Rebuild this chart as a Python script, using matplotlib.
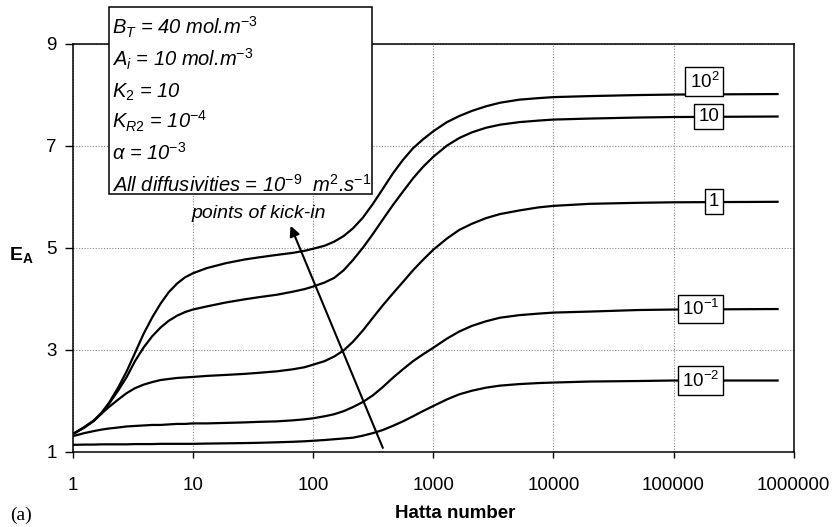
import matplotlib
matplotlib.use("Agg")
import matplotlib.pyplot as plt
from matplotlib.patches import Rectangle
from matplotlib.ticker import NullLocator

plt.rcParams["font.family"] = "Liberation Sans"
plt.rcParams["mathtext.fontset"] = "custom"
plt.rcParams["mathtext.rm"] = "Liberation Sans"
plt.rcParams["mathtext.it"] = "Liberation Sans:italic"
plt.rcParams["mathtext.bf"] = "Liberation Sans:bold"
plt.rcParams["mathtext.default"] = "it"

# ── Data ─────────────────────────────────────────────────────────────────────
HATTA = [1, 1.25, 1.5, 1.75, 2, 2.4, 2.8, 3.3, 3.9, 4.6, 5.4, 6.3, 7.4, 8.6, 10,
         13, 19, 27, 35, 50, 68, 85, 100, 125, 150, 180, 215, 260, 315, 380, 460,
         560, 680, 820, 1000, 1300, 1650, 2100, 2750, 3600, 5200, 7500, 10000,
         20000, 50000, 100000, 750000]

E_1E2 = [1.35, 1.48, 1.61, 1.78, 1.96, 2.27, 2.57, 2.94, 3.32, 3.64, 3.91, 4.13, 4.30,
         4.42, 4.50, 4.60, 4.70, 4.77, 4.81, 4.86, 4.90, 4.94, 4.98, 5.04, 5.12, 5.23,
         5.38, 5.59, 5.86, 6.15, 6.45, 6.72, 6.95, 7.12, 7.28, 7.46, 7.58, 7.68, 7.77,
         7.84, 7.90, 7.93, 7.95, 7.97, 7.99, 8.00, 8.01]
E_1E1 = [1.35, 1.48, 1.61, 1.76, 1.94, 2.21, 2.46, 2.78, 3.05, 3.27, 3.44, 3.57, 3.67,
         3.74, 3.79, 3.85, 3.93, 3.99, 4.03, 4.08, 4.14, 4.19, 4.24, 4.32, 4.41, 4.56,
         4.76, 5.00, 5.27, 5.55, 5.83, 6.10, 6.36, 6.58, 6.78, 7.00, 7.15, 7.26, 7.35,
         7.41, 7.46, 7.49, 7.51, 7.53, 7.55, 7.56, 7.57]
E_1E0 = [1.35, 1.49, 1.62, 1.76, 1.88, 2.03, 2.15, 2.25, 2.32, 2.37, 2.41, 2.43, 2.45,
         2.46, 2.47, 2.49, 2.51, 2.53, 2.55, 2.58, 2.62, 2.66, 2.71, 2.78, 2.87, 2.99,
         3.16, 3.38, 3.63, 3.87, 4.10, 4.33, 4.56, 4.76, 4.96, 5.18, 5.35, 5.47, 5.58,
         5.66, 5.73, 5.79, 5.82, 5.86, 5.88, 5.89, 5.90]
E_1EM1 = [1.31, 1.37, 1.41, 1.44, 1.46, 1.48, 1.50, 1.51, 1.52, 1.53, 1.53, 1.54, 1.55,
          1.55, 1.56, 1.56, 1.57, 1.58, 1.59, 1.60, 1.62, 1.64, 1.66, 1.70, 1.74, 1.80,
          1.88, 1.98, 2.11, 2.27, 2.45, 2.62, 2.78, 2.91, 3.04, 3.22, 3.36, 3.47, 3.56,
          3.63, 3.68, 3.71, 3.73, 3.75, 3.78, 3.79, 3.80]
E_1EM2 = [1.14, 1.145, 1.145, 1.15, 1.15, 1.15, 1.15, 1.155, 1.155, 1.155, 1.16, 1.16,
          1.16, 1.16, 1.16, 1.165, 1.17, 1.175, 1.18, 1.19, 1.20, 1.21, 1.22, 1.235, 1.25,
          1.265, 1.28, 1.32, 1.37, 1.43, 1.51, 1.60, 1.70, 1.80, 1.90, 2.03, 2.13, 2.20,
          2.26, 2.30, 2.33, 2.35, 2.36, 2.38, 2.39, 2.40, 2.40]

SERIES = [E_1E2, E_1E1, E_1E0, E_1EM1, E_1EM2]
CURVE_LABELS = [r"10$^{\mathrm{2}}$", "10", "1", r"10$^{\mathrm{-1}}$", r"10$^{\mathrm{-2}}$"]

X_TICKS = [1, 10, 100, 1000, 10000, 100000, 1000000]
X_TICKLABELS = ["1", "10", "100", "1000", "10000", "100000", "1000000"]
Y_TICKS = [1, 3, 5, 7, 9]

PARAM_LINES = [
    r"$B_T$ = 40 mol.m$^{-3}$",
    r"$A_i$ = 10 mol.m$^{-3}$",
    r"$K_2$ = 10",
    r"$K_{R2}$ = 10$^{-4}$",
    r"$\alpha$ = 10$^{-3}$",
    r"All diffusivities = 10$^{-9}$  m$^{2}$.s$^{-1}$",
]

# ── Layout / style ───────────────────────────────────────────────────────────
W, H = 834, 527
LABEL_X = 2.4e5
LABEL_DY = [9, 0, 0, 0, 0]          # points, box offset from its curve

fig = plt.figure(figsize=(W / 100, H / 100), dpi=100)
fig.patch.set_facecolor("white")
ax = fig.add_axes([72.7 / W, 1 - 452 / H, (793.7 - 72.7) / W, (452 - 43.5) / H])

ax.set_xscale("log")
ax.set_xlim(1, 1e6)
ax.set_ylim(1, 9)

for s in ax.spines.values():
    s.set_color("black")
    s.set_linewidth(1.1)

ax.set_xticks(X_TICKS)
ax.set_xticklabels(X_TICKLABELS)
ax.xaxis.set_minor_locator(NullLocator())
ax.set_yticks(Y_TICKS)
ax.set_yticklabels([str(v) for v in Y_TICKS])
ax.tick_params(axis="x", direction="out", length=4, width=1, pad=14, labelsize=13.5)
ax.tick_params(axis="y", direction="out", length=5.5, width=1, pad=6, labelsize=13.5)

ax.grid(True, which="major", color="#888888", lw=0.8, ls=(0, (1, 1.5)))
ax.set_axisbelow(True)

# curves
for e in SERIES:
    ax.plot(HATTA, e, color="black", lw=1.6, zorder=3,
            solid_joinstyle="round", solid_capstyle="butt")

# curve labels in boxes
for e, lab, dy in zip(SERIES, CURVE_LABELS, LABEL_DY):
    ax.annotate(lab, xy=(LABEL_X, e[-1]), xytext=(0, dy), textcoords="offset points",
                ha="right", va="center", fontsize=13.5, zorder=5,
                bbox=dict(boxstyle="square,pad=0.22", fc="white", ec="black", lw=1))

# kick-in arrow
ax.annotate("", xy=(65, 5.43), xytext=(381, 1.08),
            arrowprops=dict(arrowstyle="-|>", color="black", lw=1.5,
                            mutation_scale=15, shrinkA=0, shrinkB=0), zorder=4)
ax.text(35, 5.68, "points of kick-in", ha="center", va="center",
        fontsize=14, style="italic", zorder=4)

# parameter box (sits over the top frame)
fig.add_artist(Rectangle((109.3 / W, 1 - 194 / H), (371.7 - 109.3) / W, (194 - 7.3) / H,
                         transform=fig.transFigure, fc="white", ec="black", lw=1.1))
for i, line in enumerate(PARAM_LINES):
    fig.text(112 / W, 1 - (35 + 31.3 * i) / H, line, ha="left", va="baseline",
             fontsize=14.5, style="italic")

# axis titles
fig.text(21 / W, 1 - 255 / H, r"$\mathbf{E_A}$", ha="center", va="center", fontsize=14)
fig.text(455 / W, 1 - 513 / H, "Hatta number", ha="center", va="center",
         fontsize=13.5, fontweight="bold")
fig.text(21 / W, 1 - 515.5 / H, "(a)", ha="center", va="center", fontsize=14,
         family="Liberation Serif")

fig.savefig("out.png", dpi=100, facecolor="white")
